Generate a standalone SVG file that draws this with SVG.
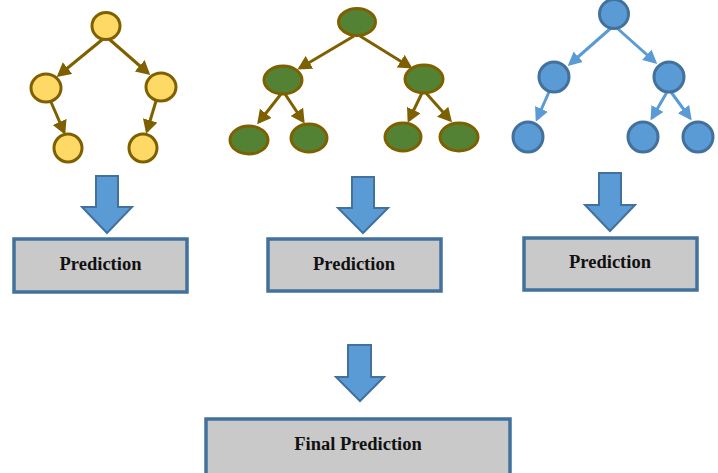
<svg xmlns="http://www.w3.org/2000/svg" width="718" height="473" viewBox="0 0 718 473">
  <defs>
    <marker id="headBrown" markerUnits="userSpaceOnUse" markerWidth="16" markerHeight="16" refX="11" refY="7.5" orient="auto">
      <path d="M0,0 L14,7.5 L0,15 z" fill="#7F6000"/>
    </marker>
    <marker id="headBlue" markerUnits="userSpaceOnUse" markerWidth="16" markerHeight="16" refX="11" refY="7" orient="auto">
      <path d="M0,0 L14,7 L0,14 z" fill="#5B9BD5"/>
    </marker>
  </defs>
  <style>
    .yel { fill: #FFD966; stroke: #7F6000; stroke-width: 3; }
    .grn { fill: #548235; stroke: #7F6000; stroke-width: 3; }
    .blu { fill: #5B9BD5; stroke: #41719C; stroke-width: 3; }
    .eb { stroke: #7F6000; stroke-width: 3; fill: none; marker-end: url(#headBrown); }
    .ebl { stroke: #5B9BD5; stroke-width: 3; fill: none; marker-end: url(#headBlue); }
    .flow { fill: #5B9BD5; stroke: #41719C; stroke-width: 2; stroke-linejoin: miter; }
    .box { fill: #C9C9C9; stroke: #41719C; stroke-width: 3.5; }
    .lbl { font-family: "Liberation Serif", "Times New Roman", serif; font-weight: bold; font-size: 18.5px; fill: #111; text-anchor: middle; }
  </style>

  <!-- tree edges and flow arrows -->
  <g id="connectors">
    <!-- yellow tree -->
    <line class="eb" x1="103" y1="39" x2="59" y2="75"/>
    <line class="eb" x1="109" y1="39" x2="148" y2="73"/>
    <line class="eb" x1="51" y1="102" x2="64" y2="132"/>
    <line class="eb" x1="156" y1="101" x2="147" y2="131"/>
    <!-- green tree -->
    <line class="eb" x1="354" y1="36" x2="300" y2="68"/>
    <line class="eb" x1="360" y1="36" x2="410" y2="67"/>
    <line class="eb" x1="281" y1="94" x2="259" y2="122"/>
    <line class="eb" x1="285" y1="94" x2="303" y2="121"/>
    <line class="eb" x1="422" y1="93" x2="409" y2="120"/>
    <line class="eb" x1="426" y1="93" x2="450" y2="120"/>
    <!-- blue tree -->
    <line class="ebl" x1="611" y1="28" x2="570" y2="64"/>
    <line class="ebl" x1="617" y1="28" x2="655" y2="62"/>
    <line class="ebl" x1="549" y1="92" x2="537" y2="119"/>
    <line class="ebl" x1="667" y1="92" x2="652" y2="118"/>
    <line class="ebl" x1="671" y1="92" x2="690" y2="118"/>
    <!-- block arrows -->
    <polygon class="flow" points="96,176 118,176 118,207 132,207 107,233 82,207 96,207"/>
    <polygon class="flow" points="352,177 374,177 374,208 388,208 363,233 338,208 352,208"/>
    <polygon class="flow" points="599,173 621,173 621,205 635,205 610,231 585,205 599,205"/>
    <polygon class="flow" points="348,345 371,345 371,377 384,377 360,401 336,377 348,377"/>
  </g>

  <!-- yellow tree -->
  <g id="tree1">
    <ellipse class="yel" cx="106" cy="26" rx="14" ry="13.5"/>
    <ellipse class="yel" cx="46" cy="88" rx="15" ry="14"/>
    <ellipse class="yel" cx="161" cy="87" rx="15" ry="14"/>
    <ellipse class="yel" cx="68" cy="148" rx="14" ry="14"/>
    <ellipse class="yel" cx="143" cy="148" rx="14" ry="14"/>
  </g>

  <!-- green tree -->
  <g id="tree2">
    <ellipse class="grn" cx="357" cy="22" rx="18.5" ry="13.5"/>
    <ellipse class="grn" cx="283" cy="80" rx="19" ry="14"/>
    <ellipse class="grn" cx="424" cy="79" rx="19" ry="14"/>
    <ellipse class="grn" cx="249" cy="140" rx="19" ry="14"/>
    <ellipse class="grn" cx="309" cy="138" rx="18" ry="14"/>
    <ellipse class="grn" cx="403" cy="137" rx="18" ry="14"/>
    <ellipse class="grn" cx="459" cy="137" rx="19" ry="14"/>
  </g>

  <!-- blue tree -->
  <g id="tree3">
    <circle class="blu" cx="614" cy="14" r="14.5"/>
    <circle class="blu" cx="554" cy="77" r="15"/>
    <circle class="blu" cx="669" cy="77" r="15"/>
    <circle class="blu" cx="528" cy="137" r="15"/>
    <circle class="blu" cx="643" cy="137" r="15"/>
    <circle class="blu" cx="698" cy="137" r="15"/>
  </g>

  <g id="prediction1">
    <rect class="box" x="14" y="239" width="173" height="53"/>
    <text class="lbl" x="100.5" y="270">Prediction</text>
  </g>
  <g id="prediction2">
    <rect class="box" x="268" y="239" width="173" height="52"/>
    <text class="lbl" x="354" y="269.5">Prediction</text>
  </g>
  <g id="prediction3">
    <rect class="box" x="524" y="238" width="173" height="52"/>
    <text class="lbl" x="610" y="268">Prediction</text>
  </g>
  <g id="finalPrediction">
    <rect class="box" x="206" y="419" width="304" height="60"/>
    <text class="lbl" x="358" y="450">Final Prediction</text>
  </g>
</svg>
